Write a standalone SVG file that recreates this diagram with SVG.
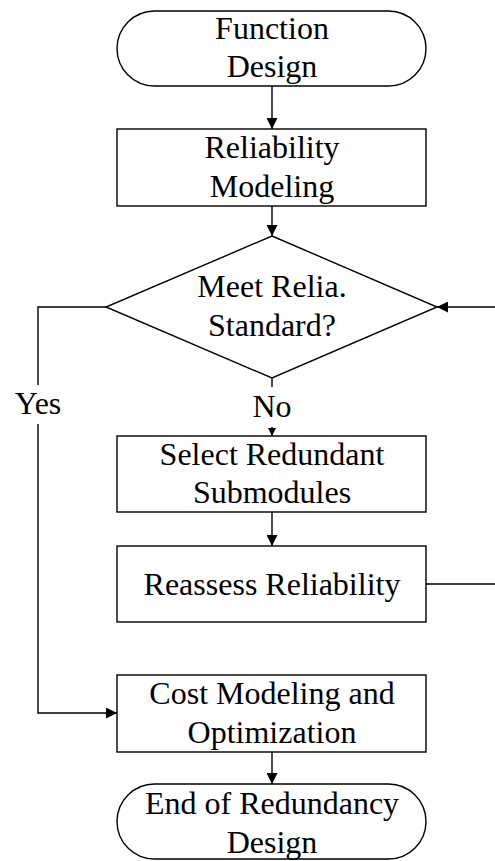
<svg xmlns="http://www.w3.org/2000/svg" width="495" height="861" viewBox="0 0 495 861">
  <defs>
    <marker id="arrow" viewBox="0 0 10 10" refX="10" refY="5" markerWidth="11" markerHeight="11" markerUnits="userSpaceOnUse" orient="auto">
      <path d="M0,0 L10,5 L0,10 Z" fill="#000"/>
    </marker>
    <marker id="arrowSmall" viewBox="0 0 10 10" refX="10" refY="5" markerWidth="8" markerHeight="8" markerUnits="userSpaceOnUse" orient="auto">
      <path d="M0,0 L10,5 L0,10 Z" fill="#000"/>
    </marker>
  </defs>
  <style>
    .shape { fill: #fff; stroke: #000; stroke-width: 1.4; }
    .edge { fill: none; stroke: #000; stroke-width: 1.4; }
    .lbl { font-family: "Liberation Serif", "Times New Roman", serif; font-size: 32px; fill: #000; text-anchor: middle; }
  </style>
  <rect width="495" height="861" fill="#fff"/>

  <g id="connectors">
    <line class="edge" x1="272" y1="86" x2="272" y2="129" marker-end="url(#arrow)"/>
    <line class="edge" x1="272" y1="206" x2="272" y2="236" marker-end="url(#arrow)"/>
    <!-- No branch -->
    <line class="edge" x1="272" y1="378" x2="272" y2="387"/>
    <line class="edge" x1="272" y1="427" x2="272" y2="436" marker-end="url(#arrowSmall)"/>
    <line class="edge" x1="272" y1="512" x2="272" y2="546" marker-end="url(#arrow)"/>
    <!-- Yes branch -->
    <polyline class="edge" points="106,307 38,307 38,385"/>
    <polyline class="edge" points="38,424 38,713 117,713" marker-end="url(#arrow)"/>
    <!-- feedback loop -->
    <polyline class="edge" points="426,584 498,584 498,307 437,307" marker-end="url(#arrow)"/>
    <line class="edge" x1="272" y1="752" x2="272" y2="784" marker-end="url(#arrow)"/>
    <text class="lbl" x="38" y="414">Yes</text>
    <text class="lbl" x="272" y="417">No</text>
  </g>

  <g id="start">
    <rect class="shape" x="117" y="11" width="309" height="75" rx="37.5" ry="37.5"/>
    <text class="lbl" x="272" y="39">Function</text>
    <text class="lbl" x="272" y="77">Design</text>
  </g>

  <g id="reliability-modeling">
    <rect class="shape" x="117" y="129" width="309" height="77"/>
    <text class="lbl" x="272" y="158">Reliability</text>
    <text class="lbl" x="272" y="197">Modeling</text>
  </g>

  <g id="meet-standard">
    <polygon class="shape" points="272,236 437,307 272,378 106,307"/>
    <text class="lbl" x="272" y="297">Meet Relia.</text>
    <text class="lbl" x="272" y="336">Standard?</text>
  </g>

  <g id="select-redundant">
    <rect class="shape" x="117" y="436" width="309" height="76"/>
    <text class="lbl" x="272" y="465">Select Redundant</text>
    <text class="lbl" x="272" y="503">Submodules</text>
  </g>

  <g id="reassess">
    <rect class="shape" x="117" y="546" width="309" height="76"/>
    <text class="lbl" x="272" y="595">Reassess Reliability</text>
  </g>

  <g id="cost-modeling">
    <rect class="shape" x="117" y="675" width="309" height="77"/>
    <text class="lbl" x="272" y="704">Cost Modeling and</text>
    <text class="lbl" x="272" y="743">Optimization</text>
  </g>

  <g id="end">
    <rect class="shape" x="117" y="784" width="309" height="75" rx="37.5" ry="37.5"/>
    <text class="lbl" x="272" y="814">End of Redundancy</text>
    <text class="lbl" x="272" y="853">Design</text>
  </g>
</svg>
